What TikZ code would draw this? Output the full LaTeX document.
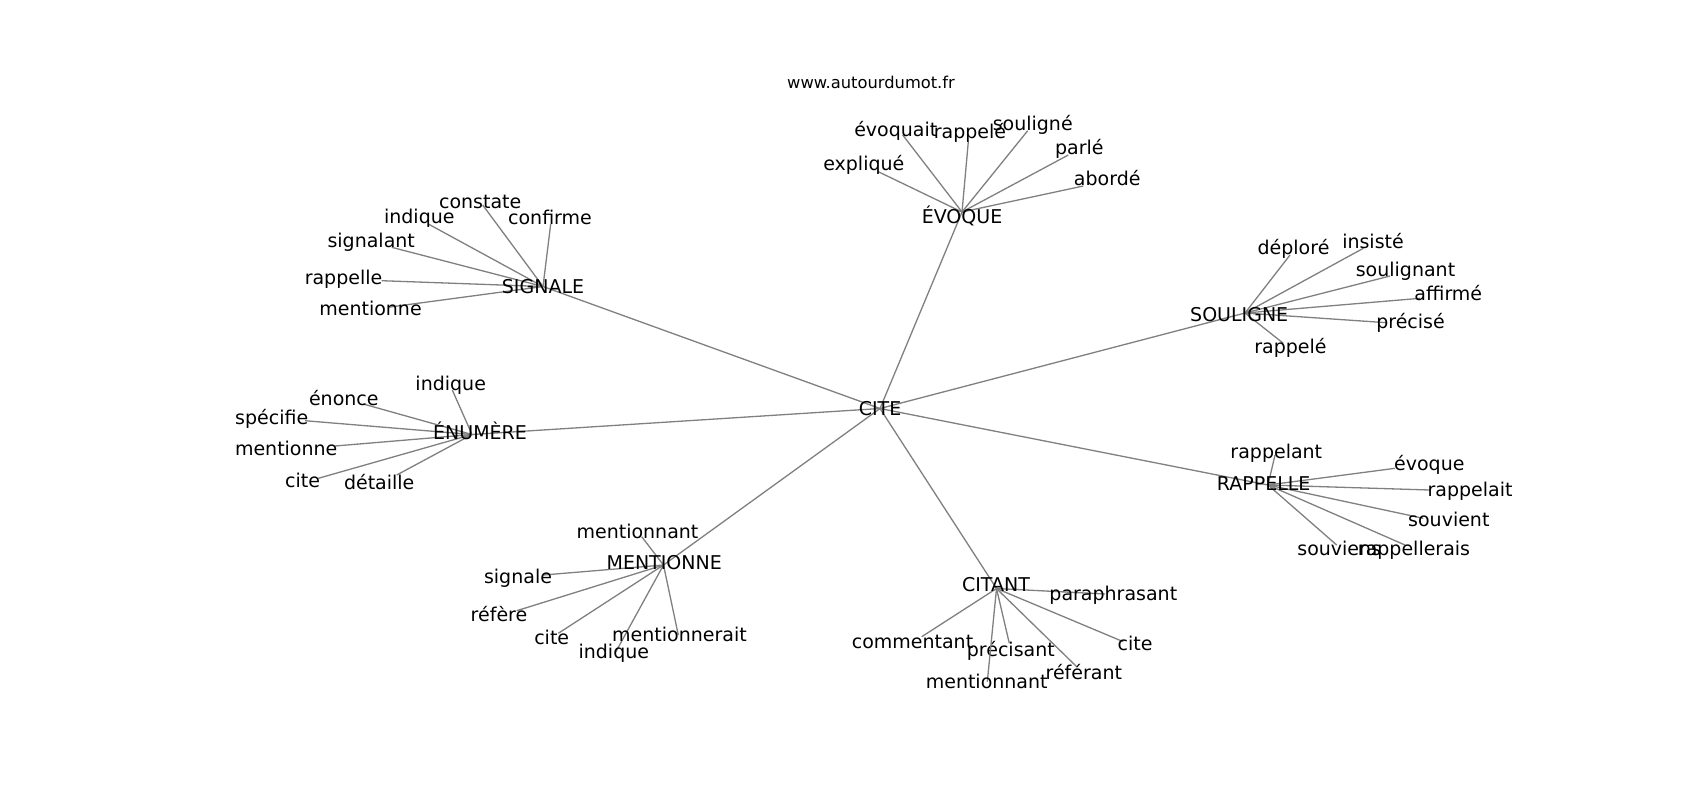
\documentclass[tikz,border=0pt]{standalone}
\usepackage{fontspec}
\setmainfont{DejaVu Sans}
\newcommand\labfont{\fontsize{9.5}{11}\selectfont}
\newcommand\titlefont{\fontsize{8.15}{10}\selectfont}
\definecolor{edgegray}{HTML}{808080}
\tikzset{
  edge/.style={draw=edgegray, line width=0.65pt},
  lbl/.style={anchor=base, inner sep=0pt, font=\labfont, text=black},
  ttl/.style={anchor=base, inner sep=0pt, font=\titlefont, text=black}
}
% hub, name, line end, label position, text
\newcommand\wordleaf[5]{%
  \coordinate (#2) at (#3);
  \draw[edge] (#1) -- (#2);
  \node[lbl] (#2-t) at (#4) {#5};}
\begin{document}
\begin{tikzpicture}[x=0.5pt, y=-0.5pt]
\useasboundingbox (0,0) rectangle (1700,800);
\fill[white] (0,0) rectangle (1700,800);

\node[ttl] (title) at (871,88) {www.autourdumot.fr};

% hubs
\coordinate (cite) at (880,408.5);
\coordinate (evoque) at (962,212);
\coordinate (signale) at (543,286.5);
\coordinate (souligne) at (1245,313);
\coordinate (enumere) at (472,434.5);
\coordinate (rappelle) at (1268,485);
\coordinate (mentionne) at (663.5,565);
\coordinate (citant) at (996.5,588.5);

\draw[edge] (cite) -- (evoque);
\draw[edge] (cite) -- (signale);
\draw[edge] (cite) -- (souligne);
\draw[edge] (cite) -- (enumere);
\draw[edge] (cite) -- (rappelle);
\draw[edge] (cite) -- (mentionne);
\draw[edge] (cite) -- (citant);

% EVOQUE
\wordleaf{evoque}{ev1}{902.7,135}{895.8,136}{évoquait}
\wordleaf{evoque}{ev2}{968.3,141.7}{970,138.3}{rappelé}
\wordleaf{evoque}{ev3}{1027.7,130.7}{1032.7,130}{souligné}
\wordleaf{evoque}{ev4}{1068.3,155}{1079.3,154.3}{parlé}
\wordleaf{evoque}{ev5}{1083.3,186}{1107.2,185.7}{abordé}
\wordleaf{evoque}{ev6}{878.3,171.7}{863.8,170}{expliqué}

% SIGNALE
\wordleaf{signale}{sg1}{482.7,205}{480.2,208.3}{constate}
\wordleaf{signale}{sg2}{550.7,224}{550,224}{confirme}
\wordleaf{signale}{sg3}{428.3,224}{419.3,223.3}{indique}
\wordleaf{signale}{sg4}{391.7,247.3}{371.2,247.7}{signalant}
\wordleaf{signale}{sg5}{381.7,280.7}{343.5,284}{rappelle}
\wordleaf{signale}{sg6}{390,307}{370.5,315.7}{mentionne}

% SOULIGNE
\wordleaf{souligne}{so1}{1290,255}{1293.5,254}{déploré}
\wordleaf{souligne}{so2}{1363.3,248.3}{1373,248.3}{insisté}
\wordleaf{souligne}{so3}{1390,276}{1405.5,276}{soulignant}
\wordleaf{souligne}{so4}{1420,298.3}{1448.3,300}{affirmé}
\wordleaf{souligne}{so5}{1386.7,322.7}{1410.5,328.3}{précisé}
\wordleaf{souligne}{so6}{1283.3,343.3}{1290.5,353.3}{rappelé}

% ENUMERE
\wordleaf{enumere}{en1}{452.3,390}{450.7,390}{indique}
\wordleaf{enumere}{en2}{363.3,404}{343.8,405}{énonce}
\wordleaf{enumere}{en3}{305,420.7}{271.7,424}{spécifie}
\wordleaf{enumere}{en4}{335,446}{286.2,455}{mentionne}
\wordleaf{enumere}{en5}{318.3,478.3}{302.5,487.3}{cite}
\wordleaf{enumere}{en6}{396.7,475}{379.2,489.3}{détaille}

% RAPPELLE
\wordleaf{rappelle}{ra1}{1275,455}{1276.3,458.3}{rappelant}
\wordleaf{rappelle}{ra2}{1395,468.3}{1429.3,470}{évoque}
\wordleaf{rappelle}{ra3}{1430,490}{1470,496.7}{rappelait}
\wordleaf{rappelle}{ra4}{1423.3,518.3}{1448.8,526.7}{souvient}
\wordleaf{rappelle}{ra5}{1336.7,545}{1339.2,555}{souviens}
\wordleaf{rappelle}{ra6}{1405,545}{1414,555}{rappellerais}

% MENTIONNE
\wordleaf{mentionne}{me1}{641.7,536.7}{637.5,538.3}{mentionnant}
\wordleaf{mentionne}{me2}{543.3,575}{518,583.3}{signale}
\wordleaf{mentionne}{me3}{516.7,610.7}{499,621.7}{réfère}
\wordleaf{mentionne}{me4}{558.3,633.3}{551.7,644}{cite}
\wordleaf{mentionne}{me5}{615,653.3}{613.8,658.3}{indique}
\wordleaf{mentionne}{me6}{678.3,635}{679.5,641.7}{mentionnerait}

% CITANT
\wordleaf{citant}{ct1}{1105,594}{1113.3,600}{paraphrasant}
\wordleaf{citant}{ct2}{921.7,636.7}{912.5,648.3}{commentant}
\wordleaf{citant}{ct3}{1009.3,643.3}{1010.8,656}{précisant}
\wordleaf{citant}{ct4}{987.3,681.7}{986.7,688.3}{mentionnant}
\wordleaf{citant}{ct5}{1076.7,666.7}{1083.8,679.3}{référant}
\wordleaf{citant}{ct6}{1123.3,641.7}{1135,650}{cite}

% hub labels
\node[lbl] (cite-t) at (880,415) {CITE};
\node[lbl] (evoque-t) at (962,223.3) {ÉVOQUE};
\node[lbl] (signale-t) at (543,293.3) {SIGNALE};
\node[lbl] (souligne-t) at (1239.2,321.7) {SOULIGNE};
\node[lbl] (enumere-t) at (480,439.3) {ÉNUMÈRE};
\node[lbl] (rappelle-t) at (1263.7,490) {RAPPELLE};
\node[lbl] (mentionne-t) at (664.2,569.3) {MENTIONNE};
\node[lbl] (citant-t) at (996,591.7) {CITANT};
\end{tikzpicture}
\end{document}
